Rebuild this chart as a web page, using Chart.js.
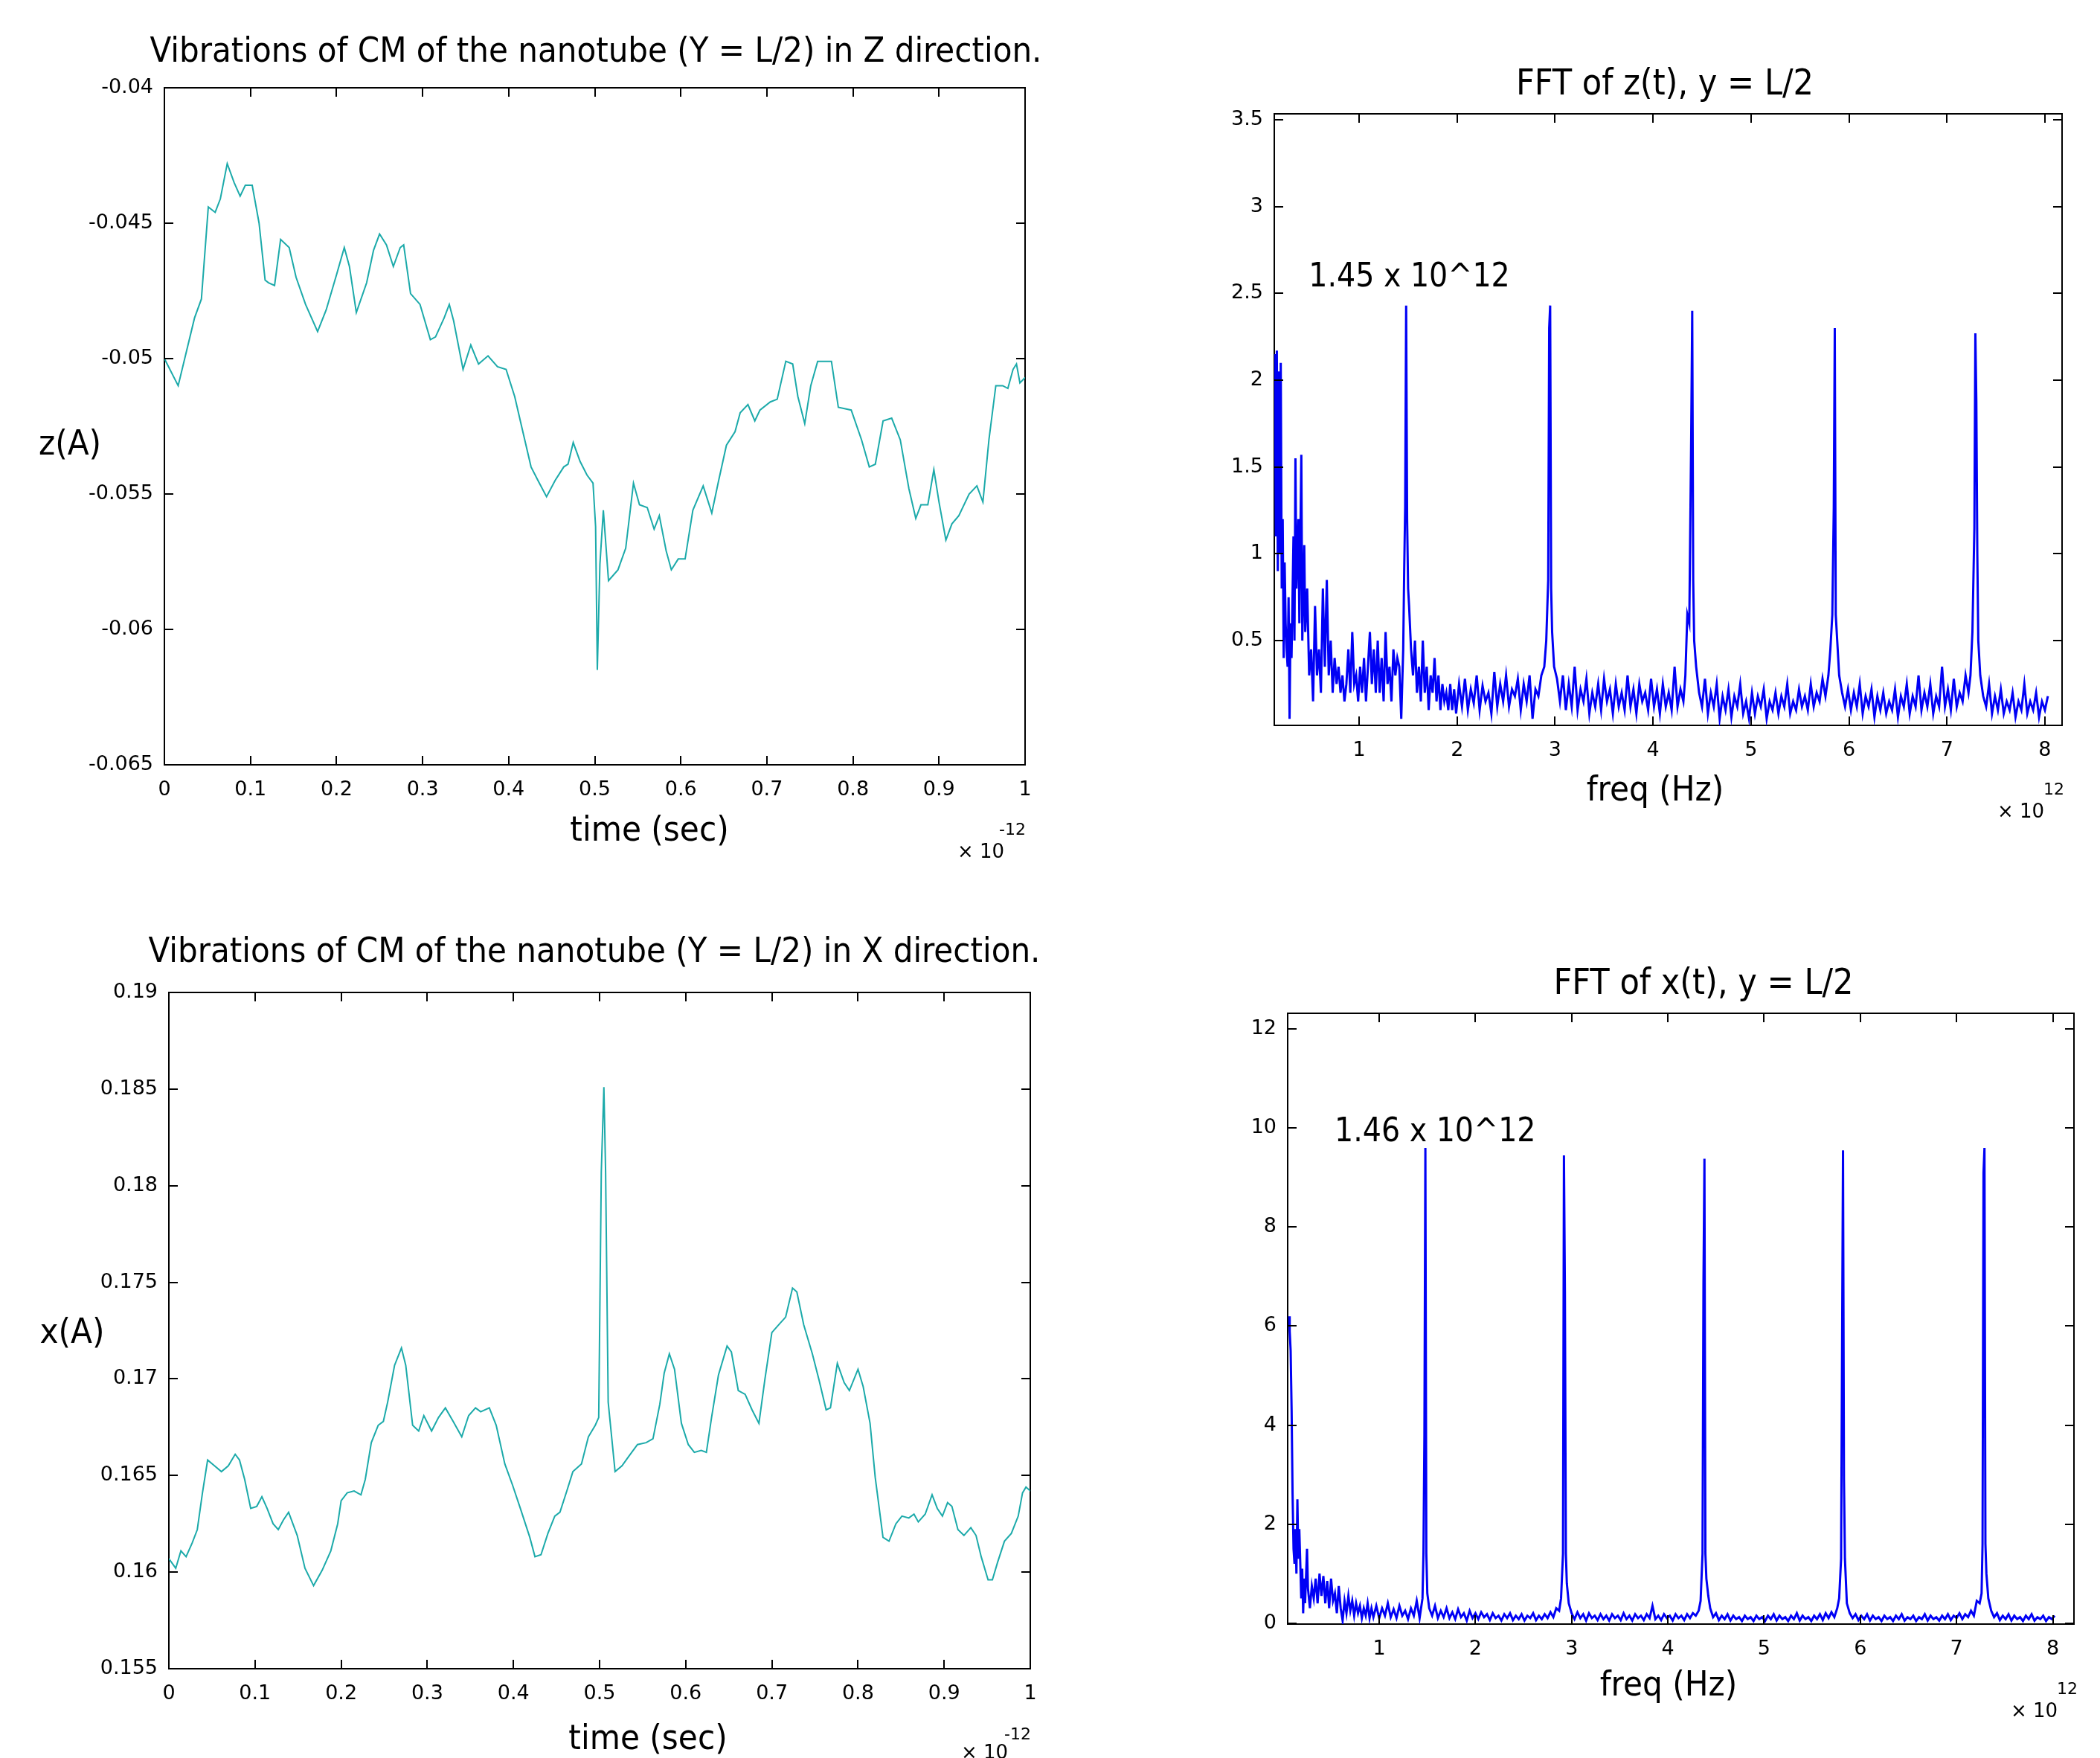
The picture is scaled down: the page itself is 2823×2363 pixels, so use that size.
<!DOCTYPE html>
<html>
<head>
<meta charset="utf-8">
<script src="https://cdn.jsdelivr.net/npm/chart.js@4.4.0/dist/chart.umd.min.js"></script>
<style>
  body { margin: 0; background: #fff; width: 2823px; height: 2363px; position: relative; overflow: hidden; }
  canvas { position: absolute; }
</style>
</head>
<body>
<canvas id="zt" width="1440" height="1190" style="left:0;top:0"></canvas>
<canvas id="zfft" width="1383" height="1190" style="left:1440px;top:0"></canvas>
<canvas id="xt" width="1440" height="1173" style="left:0;top:1190px"></canvas>
<canvas id="xfft" width="1383" height="1173" style="left:1440px;top:1190px"></canvas>
<script>
// time axis in units of 1e-12 s, frequency axis in units of 1e12 Hz
let tZ = [0,0.016,0.035,0.043,0.051,0.059,0.065,0.073,0.081,0.088,
  0.094,0.102,0.110,0.117,0.121,0.128,0.135,0.145,0.153,0.164,
  0.178,0.188,0.200,0.209,0.215,0.223,0.235,0.243,0.250,0.258,
  0.266,0.274,0.278,0.286,0.297,0.309,0.315,0.325,0.331,0.336,
  0.347,0.356,0.365,0.376,0.387,0.397,0.407,0.415,0.426,0.434,
  0.444,0.454,0.464,0.469,0.475,0.483,0.491,0.498,0.501,0.503,
  0.506,0.510,0.516,0.527,0.536,0.545,0.552,0.561,0.569,0.575,
  0.583,0.589,0.597,0.605,0.614,0.626,0.636,0.644,0.653,0.663,
  0.669,0.678,0.686,0.692,0.704,0.712,0.722,0.730,0.736,0.744,
  0.751,0.759,0.775,0.783,0.798,0.810,0.819,0.826,0.835,0.845,
  0.855,0.865,0.873,0.879,0.887,0.894,0.900,0.908,0.915,0.923,
  0.935,0.944,0.951,0.958,0.966,0.974,0.980,0.986,0.990,0.994,
  1.0];
let zPos = [-0.0500,-0.0510,-0.0485,-0.0478,-0.0444,-0.0446,-0.0441,-0.0428,-0.0435,-0.0440,
  -0.0436,-0.0436,-0.0450,-0.0471,-0.0472,-0.0473,-0.0456,-0.0459,-0.0470,-0.0480,
  -0.0490,-0.0482,-0.0469,-0.0459,-0.0466,-0.0483,-0.0472,-0.0460,-0.0454,-0.0458,
  -0.0466,-0.0459,-0.0458,-0.0476,-0.0480,-0.0493,-0.0492,-0.0485,-0.0480,-0.0486,
  -0.0504,-0.0495,-0.0502,-0.0499,-0.0503,-0.0504,-0.0514,-0.0525,-0.0540,-0.0545,
  -0.0551,-0.0545,-0.0540,-0.0539,-0.0531,-0.0538,-0.0543,-0.0546,-0.0562,-0.0615,
  -0.0576,-0.0556,-0.0582,-0.0578,-0.0570,-0.0546,-0.0554,-0.0555,-0.0563,-0.0558,
  -0.0571,-0.0578,-0.0574,-0.0574,-0.0556,-0.0547,-0.0557,-0.0545,-0.0532,-0.0527,
  -0.0520,-0.0517,-0.0523,-0.0519,-0.0516,-0.0515,-0.0501,-0.0502,-0.0514,-0.0524,
  -0.0510,-0.0501,-0.0501,-0.0518,-0.0519,-0.0530,-0.0540,-0.0539,-0.0523,-0.0522,
  -0.0530,-0.0548,-0.0559,-0.0554,-0.0554,-0.0541,-0.0553,-0.0567,-0.0561,-0.0558,
  -0.0550,-0.0547,-0.0553,-0.0530,-0.0510,-0.0510,-0.0511,-0.0504,-0.0502,-0.0509,
  -0.0507];

let tX = [0,0.008,0.014,0.020,0.027,0.033,0.039,0.045,0.053,0.061,
  0.069,0.077,0.082,0.088,0.095,0.102,0.108,0.114,0.121,0.127,
  0.133,0.139,0.149,0.158,0.168,0.178,0.188,0.196,0.200,0.207,
  0.215,0.223,0.228,0.235,0.243,0.249,0.254,0.262,0.270,0.275,
  0.283,0.290,0.296,0.305,0.313,0.321,0.330,0.340,0.348,0.356,
  0.362,0.372,0.380,0.390,0.399,0.408,0.419,0.425,0.432,0.440,
  0.448,0.454,0.462,0.469,0.479,0.487,0.495,0.499,0.502,0.505,
  0.507,0.510,0.518,0.526,0.534,0.544,0.554,0.562,0.570,0.575,
  0.581,0.587,0.595,0.603,0.610,0.618,0.624,0.630,0.638,0.648,
  0.653,0.661,0.669,0.677,0.685,0.692,0.700,0.708,0.716,0.724,
  0.729,0.737,0.747,0.755,0.763,0.768,0.776,0.784,0.790,0.800,
  0.806,0.814,0.820,0.829,0.836,0.844,0.851,0.859,0.865,0.870,
  0.878,0.886,0.892,0.898,0.904,0.909,0.916,0.923,0.931,0.937,
  0.943,0.951,0.956,0.962,0.970,0.978,0.986,0.991,0.995,1.0];
let xPos = [0.1607,0.1602,0.1611,0.1608,0.1615,0.1622,0.1641,0.1658,0.1655,0.1652,
  0.1655,0.1661,0.1658,0.1648,0.1633,0.1634,0.1639,0.1633,0.1625,0.1622,
  0.1627,0.1631,0.1619,0.1602,0.1593,0.1601,0.1611,0.1625,0.1637,0.1641,
  0.1642,0.1640,0.1648,0.1667,0.1676,0.1678,0.1688,0.1707,0.1716,0.1707,
  0.1676,0.1673,0.1681,0.1673,0.1680,0.1685,0.1678,0.1670,0.1681,0.1685,
  0.1683,0.1685,0.1676,0.1656,0.1645,0.1633,0.1618,0.1608,0.1609,0.1620,
  0.1629,0.1631,0.1642,0.1652,0.1656,0.1670,0.1676,0.1680,0.1807,0.1851,
  0.1807,0.1688,0.1652,0.1655,0.1660,0.1666,0.1667,0.1669,0.1687,0.1703,
  0.1713,0.1705,0.1677,0.1666,0.1662,0.1663,0.1662,0.1680,0.1702,0.1717,
  0.1714,0.1694,0.1692,0.1684,0.1677,0.1700,0.1724,0.1728,0.1732,0.1747,
  0.1745,0.1728,0.1713,0.1699,0.1684,0.1685,0.1708,0.1698,0.1694,0.1705,
  0.1696,0.1677,0.1649,0.1618,0.1616,0.1625,0.1629,0.1628,0.1630,0.1626,
  0.1630,0.1640,0.1633,0.1629,0.1636,0.1634,0.1622,0.1619,0.1623,0.1619,
  0.1608,0.1596,0.1596,0.1605,0.1616,0.1620,0.1629,0.1641,0.1644,0.1642];

let fftZFreq = [0.14,0.15,0.16,0.17,0.18,0.19,0.20,0.21,0.22,0.23,
  0.24,0.25,0.26,0.27,0.28,0.29,0.30,0.31,0.33,0.34,
  0.35,0.36,0.38,0.39,0.41,0.42,0.44,0.45,0.47,0.49,
  0.51,0.53,0.55,0.57,0.59,0.61,0.63,0.65,0.67,0.69,
  0.71,0.73,0.75,0.77,0.79,0.81,0.83,0.85,0.87,0.89,
  0.91,0.93,0.95,0.97,0.99,1.01,1.03,1.05,1.07,1.09,
  1.11,1.13,1.15,1.17,1.19,1.21,1.23,1.25,1.27,1.29,
  1.31,1.33,1.35,1.37,1.39,1.41,1.43,1.45,1.46,1.47,
  1.48,1.49,1.50,1.51,1.53,1.55,1.57,1.59,1.61,1.63,
  1.65,1.67,1.69,1.71,1.73,1.75,1.77,1.79,1.81,1.83,
  1.85,1.87,1.89,1.91,1.93,1.95,1.97,1.99,2.02,2.05,
  2.08,2.11,2.14,2.17,2.20,2.23,2.26,2.29,2.32,2.35,
  2.38,2.41,2.44,2.47,2.50,2.53,2.56,2.59,2.62,2.65,
  2.68,2.71,2.74,2.77,2.80,2.83,2.86,2.89,2.91,2.93,
  2.94,2.95,2.96,2.97,2.99,3.02,3.05,3.08,3.11,3.14,
  3.17,3.20,3.23,3.26,3.29,3.32,3.35,3.38,3.41,3.44,
  3.47,3.50,3.53,3.56,3.59,3.62,3.65,3.68,3.71,3.74,
  3.77,3.80,3.83,3.86,3.89,3.92,3.95,3.98,4.01,4.04,
  4.07,4.10,4.13,4.16,4.19,4.22,4.25,4.28,4.31,4.33,
  4.35,4.37,4.39,4.40,4.41,4.42,4.44,4.47,4.50,4.53,
  4.56,4.59,4.62,4.65,4.68,4.71,4.74,4.77,4.80,4.83,
  4.86,4.89,4.92,4.95,4.98,5.01,5.04,5.07,5.10,5.13,
  5.16,5.19,5.22,5.25,5.28,5.31,5.34,5.37,5.40,5.43,
  5.46,5.49,5.52,5.55,5.58,5.61,5.64,5.67,5.70,5.73,
  5.76,5.79,5.81,5.83,5.845,5.855,5.865,5.88,5.90,5.93,
  5.96,5.99,6.02,6.05,6.08,6.11,6.14,6.17,6.20,6.23,
  6.26,6.29,6.32,6.35,6.38,6.41,6.44,6.47,6.50,6.53,
  6.56,6.59,6.62,6.65,6.68,6.71,6.74,6.77,6.80,6.83,
  6.86,6.89,6.92,6.95,6.98,7.01,7.04,7.07,7.10,7.13,
  7.16,7.19,7.22,7.24,7.26,7.28,7.29,7.30,7.31,7.32,
  7.34,7.37,7.40,7.43,7.46,7.49,7.52,7.55,7.58,7.61,
  7.64,7.67,7.70,7.73,7.76,7.79,7.82,7.85,7.88,7.91,
  7.94,7.97,8.00,8.03];
let fftZAmp = [2.15,1.10,2.17,0.90,2.05,1.00,2.10,0.80,1.20,0.40,
  0.95,0.60,0.45,0.35,0.75,0.05,0.60,0.40,1.10,0.50,
  1.55,0.80,1.20,0.60,1.57,0.50,1.05,0.55,0.80,0.30,
  0.45,0.15,0.70,0.30,0.45,0.20,0.80,0.35,0.85,0.30,
  0.50,0.20,0.40,0.25,0.35,0.20,0.30,0.15,0.25,0.45,
  0.20,0.55,0.25,0.30,0.15,0.35,0.20,0.40,0.15,0.35,
  0.55,0.25,0.45,0.20,0.50,0.20,0.40,0.15,0.55,0.25,
  0.35,0.15,0.45,0.30,0.40,0.35,0.05,0.45,0.90,1.27,
  2.43,1.20,0.80,0.70,0.45,0.30,0.50,0.20,0.35,0.15,
  0.50,0.20,0.35,0.10,0.30,0.20,0.40,0.15,0.30,0.10,
  0.25,0.15,0.20,0.10,0.25,0.10,0.22,0.08,0.25,0.12,
  0.28,0.10,0.22,0.14,0.30,0.10,0.24,0.15,0.20,0.08,
  0.32,0.12,0.25,0.15,0.30,0.12,0.22,0.18,0.28,0.10,
  0.25,0.15,0.30,0.05,0.22,0.18,0.30,0.35,0.50,0.85,
  2.30,2.43,0.80,0.55,0.35,0.28,0.15,0.30,0.10,0.25,
  0.12,0.35,0.10,0.22,0.15,0.28,0.08,0.20,0.12,0.25,
  0.10,0.28,0.15,0.22,0.08,0.25,0.12,0.20,0.10,0.30,
  0.12,0.22,0.08,0.25,0.15,0.20,0.10,0.28,0.12,0.22,
  0.08,0.25,0.12,0.20,0.10,0.35,0.12,0.22,0.15,0.30,
  0.65,0.60,1.70,2.40,0.85,0.50,0.35,0.20,0.12,0.28,
  0.08,0.20,0.12,0.25,0.05,0.18,0.10,0.22,0.06,0.18,
  0.12,0.25,0.08,0.15,0.05,0.20,0.08,0.18,0.12,0.22,
  0.05,0.15,0.10,0.20,0.08,0.18,0.12,0.25,0.08,0.15,
  0.10,0.22,0.12,0.18,0.10,0.25,0.12,0.20,0.15,0.28,
  0.18,0.30,0.45,0.65,1.27,2.30,0.65,0.50,0.30,0.20,
  0.12,0.22,0.10,0.20,0.12,0.25,0.08,0.18,0.12,0.22,
  0.06,0.18,0.10,0.20,0.08,0.15,0.10,0.22,0.06,0.18,
  0.12,0.25,0.08,0.18,0.12,0.30,0.10,0.20,0.12,0.25,
  0.08,0.18,0.12,0.35,0.12,0.22,0.10,0.28,0.12,0.20,
  0.15,0.30,0.20,0.30,0.55,1.15,2.27,1.88,1.00,0.50,
  0.30,0.18,0.12,0.25,0.08,0.18,0.10,0.22,0.08,0.15,
  0.10,0.20,0.06,0.15,0.10,0.25,0.08,0.15,0.10,0.20,
  0.06,0.15,0.10,0.18];

let fftXFreq = [0.066,0.07,0.08,0.09,0.10,0.11,0.12,0.13,0.14,0.15,
  0.16,0.17,0.18,0.19,0.20,0.21,0.22,0.23,0.25,0.26,
  0.28,0.30,0.32,0.34,0.36,0.38,0.40,0.42,0.44,0.46,
  0.48,0.50,0.52,0.54,0.56,0.58,0.60,0.62,0.64,0.66,
  0.68,0.70,0.72,0.74,0.76,0.78,0.80,0.82,0.84,0.86,
  0.88,0.90,0.92,0.94,0.97,1.00,1.03,1.06,1.09,1.12,
  1.15,1.18,1.21,1.24,1.27,1.30,1.33,1.36,1.39,1.42,
  1.45,1.46,1.47,1.48,1.49,1.50,1.52,1.55,1.58,1.61,
  1.64,1.67,1.70,1.73,1.76,1.79,1.82,1.85,1.88,1.91,
  1.94,1.97,2.00,2.03,2.06,2.09,2.12,2.15,2.18,2.21,
  2.24,2.27,2.30,2.33,2.36,2.39,2.42,2.45,2.48,2.51,
  2.54,2.57,2.60,2.63,2.66,2.69,2.72,2.75,2.78,2.81,
  2.84,2.87,2.89,2.91,2.92,2.93,2.94,2.95,2.97,3.00,
  3.03,3.06,3.09,3.12,3.15,3.18,3.21,3.24,3.27,3.30,
  3.33,3.36,3.39,3.42,3.45,3.48,3.51,3.54,3.57,3.60,
  3.63,3.66,3.69,3.72,3.75,3.78,3.81,3.84,3.87,3.90,
  3.93,3.96,3.99,4.02,4.05,4.08,4.11,4.14,4.17,4.20,
  4.23,4.26,4.29,4.32,4.34,4.36,4.37,4.38,4.39,4.40,
  4.42,4.44,4.47,4.50,4.53,4.56,4.59,4.62,4.65,4.68,
  4.71,4.74,4.77,4.80,4.83,4.86,4.89,4.92,4.95,4.98,
  5.01,5.04,5.07,5.10,5.13,5.16,5.19,5.22,5.25,5.28,
  5.31,5.34,5.37,5.40,5.43,5.46,5.49,5.52,5.55,5.58,
  5.61,5.64,5.67,5.70,5.73,5.76,5.78,5.80,5.82,5.83,
  5.84,5.86,5.89,5.92,5.95,5.98,6.01,6.04,6.07,6.10,
  6.13,6.16,6.19,6.22,6.25,6.28,6.31,6.34,6.37,6.40,
  6.43,6.46,6.49,6.52,6.55,6.58,6.61,6.64,6.67,6.70,
  6.73,6.76,6.79,6.82,6.85,6.88,6.91,6.94,6.97,7.00,
  7.03,7.06,7.09,7.12,7.15,7.18,7.21,7.24,7.26,7.27,
  7.28,7.29,7.30,7.31,7.33,7.36,7.39,7.42,7.45,7.48,
  7.51,7.54,7.57,7.60,7.63,7.66,7.69,7.72,7.75,7.78,
  7.81,7.84,7.87,7.90,7.93,7.96,7.99,8.02];
let fftXAmp = [6.20,5.90,5.50,4.30,2.60,1.50,1.20,1.90,1.00,2.50,
  1.30,1.90,1.20,0.50,1.10,0.20,0.90,0.40,1.50,0.70,
  0.30,0.75,0.50,0.90,0.40,1.00,0.55,0.95,0.40,0.85,
  0.30,0.90,0.45,0.60,0.20,0.75,0.30,0.05,0.45,0.20,
  0.55,0.25,0.45,0.15,0.40,0.20,0.35,0.10,0.30,0.15,
  0.40,0.10,0.30,0.12,0.35,0.10,0.30,0.15,0.40,0.12,
  0.28,0.10,0.35,0.15,0.25,0.08,0.30,0.15,0.45,0.10,
  0.50,1.40,3.80,9.60,1.40,0.60,0.30,0.15,0.35,0.10,
  0.25,0.12,0.30,0.10,0.22,0.08,0.28,0.12,0.20,0.05,
  0.25,0.10,0.20,0.08,0.22,0.12,0.18,0.06,0.20,0.10,
  0.15,0.05,0.18,0.10,0.20,0.06,0.15,0.08,0.18,0.05,
  0.15,0.10,0.20,0.06,0.15,0.08,0.18,0.10,0.22,0.12,
  0.30,0.25,0.50,1.40,9.45,6.70,1.40,0.80,0.40,0.20,
  0.08,0.22,0.10,0.18,0.05,0.20,0.10,0.15,0.06,0.18,
  0.08,0.15,0.05,0.18,0.10,0.15,0.06,0.20,0.08,0.15,
  0.05,0.18,0.10,0.15,0.06,0.18,0.10,0.35,0.08,0.15,
  0.06,0.18,0.10,0.15,0.05,0.18,0.10,0.15,0.06,0.18,
  0.10,0.20,0.15,0.25,0.45,1.40,6.90,9.38,1.40,0.90,
  0.55,0.30,0.12,0.20,0.06,0.15,0.08,0.18,0.05,0.15,
  0.08,0.12,0.04,0.15,0.08,0.12,0.04,0.15,0.08,0.12,
  0.04,0.15,0.08,0.18,0.05,0.15,0.08,0.12,0.04,0.15,
  0.08,0.20,0.05,0.15,0.08,0.12,0.04,0.15,0.08,0.18,
  0.06,0.20,0.10,0.22,0.12,0.30,0.50,1.30,9.55,2.90,
  1.30,0.40,0.20,0.10,0.18,0.06,0.15,0.08,0.18,0.05,
  0.15,0.08,0.12,0.04,0.15,0.08,0.12,0.04,0.15,0.08,
  0.18,0.05,0.12,0.08,0.15,0.04,0.12,0.08,0.18,0.05,
  0.15,0.08,0.12,0.05,0.15,0.08,0.18,0.06,0.15,0.10,
  0.20,0.08,0.18,0.12,0.25,0.15,0.45,0.40,0.60,1.60,
  9.10,9.60,1.60,1.00,0.50,0.25,0.12,0.20,0.06,0.15,
  0.08,0.18,0.05,0.15,0.08,0.12,0.04,0.15,0.08,0.18,
  0.05,0.12,0.08,0.15,0.04,0.12,0.08,0.15];

// axis limits
let zTimeY = [-0.065, -0.04];
let xTimeY = [0.155, 0.19];
let timeX = [0, 1];
let fftZX = [0.134, 8.175];
let fftZY = [0.012, 3.534];
let fftXX = [0.049, 8.22];
let fftXY = [-0.02, 12.32];

let bigFamily = "'DejaVu Sans Condensed', 'DejaVu Sans', sans-serif";
let tickFamily = "'DejaVu Sans', sans-serif";
let longTitleFont = "46.8px " + bigFamily;
let titleFont = "48px " + bigFamily;
let bigFont = "47px " + bigFamily;
let noteFont = "44px " + bigFamily;
let smallFont = "26px " + tickFamily;
let supFont = "22px " + tickFamily;

// loose texts: titles, y labels, x labels, x10 multipliers, peak notes
let extraText = {
    id: 'extraText',
    afterDraw(chart, args, opts) {
        let ctx = chart.ctx;
        (opts.items || []).forEach(item => {
            let x = item.x, y = item.y;
            if (item.data) {
                x = chart.scales.x.getPixelForValue(item.x);
                y = chart.scales.y.getPixelForValue(item.y);
            }
            ctx.save();
            ctx.font = item.font;
            ctx.fillStyle = '#000';
            ctx.textAlign = item.align || 'center';
            ctx.textBaseline = 'middle';
            ctx.fillText(item.text, x, y);
            ctx.restore();
        });
    }
};

// matlab style tick marks pointing into the box, on all four sides
let inwardTicks = {
    id: 'inwardTicks',
    afterDatasetsDraw(chart) {
        let ctx = chart.ctx, a = chart.chartArea, len = 12;
        let sx = chart.scales.x, sy = chart.scales.y;
        ctx.save();
        ctx.strokeStyle = '#000';
        ctx.lineWidth = 2;
        ctx.beginPath();
        sx.ticks.forEach(t => {
            let px = Math.round(sx.getPixelForValue(t.value));
            ctx.moveTo(px, a.bottom); ctx.lineTo(px, a.bottom - len);
            ctx.moveTo(px, a.top); ctx.lineTo(px, a.top + len);
        });
        sy.ticks.forEach(t => {
            let py = Math.round(sy.getPixelForValue(t.value));
            ctx.moveTo(a.left, py); ctx.lineTo(a.left + len, py);
            ctx.moveTo(a.right, py); ctx.lineTo(a.right - len, py);
        });
        ctx.stroke();
        ctx.restore();
    }
};

function axis(pos, lim, step, size, pad, labels) {
    return {
        type: 'linear', position: pos, min: lim[0], max: lim[1],
        grid: { display: false, drawTicks: false },
        border: { display: true, color: '#000', width: 2 },
        ticks: {
            display: labels, stepSize: step, includeBounds: false, autoSkip: false, maxRotation: 0,
            padding: pad, color: '#000', font: { family: tickFamily, size: 27 },
            callback: v => String(+v.toFixed(4))
        },
        afterFit: s => {
            if (pos === 'top' || pos === 'bottom') s.height = size; else s.width = size;
        }
    };
}

function makeChart(id, c) {
    return new Chart(document.getElementById(id), {
        type: 'line',
        data: {
            datasets: [{
                data: c.xs.map((x, i) => ({ x: x, y: c.ys[i] })),
                borderColor: c.color, borderWidth: c.width, pointRadius: 0, tension: 0, fill: false
            }]
        },
        options: {
            responsive: false, animation: false, events: [],
            layout: { padding: { left: 0, top: c.padTop, right: c.padRight, bottom: 0 } },
            scales: {
                x: axis('bottom', c.xLim, c.xStep, c.xAxisH, 18, true),
                x2: axis('top', c.xLim, c.xStep, 0, 0, false),
                y: axis('left', c.yLim, c.yStep, c.yAxisW, 15, true),
                y2: axis('right', c.yLim, c.yStep, 0, 0, false)
            },
            plugins: {
                legend: { display: false },
                tooltip: { enabled: false },
                title: { display: false },
                extraText: { items: c.texts }
            }
        },
        plugins: [inwardTicks, extraText]
    });
}

let teal = 'rgb(28,170,170)';
let blue = 'rgb(0,0,245)';

makeChart('zt', {
    xs: tZ, ys: zPos, color: teal, width: 2,
    xLim: timeX, xStep: 0.1, yLim: zTimeY, yStep: 0.005,
    padTop: 118, padRight: 62, xAxisH: 162, yAxisW: 221,
    texts: [
        { text: 'Vibrations of CM of the nanotube (Y = L/2) in Z direction.', x: 801, y: 71, font: longTitleFont },
        { text: 'z(A)', x: 94, y: 599, font: bigFont },
        { text: 'time (sec)', x: 873, y: 1118, font: bigFont },
        { text: '\u00d7 10', x: 1287, y: 1146, font: smallFont, align: 'left' },
        { text: '-12', x: 1343, y: 1116, font: supFont, align: 'left' }
    ]
});

makeChart('zfft', {
    xs: fftZFreq, ys: fftZAmp, color: blue, width: 3,
    xLim: fftZX, xStep: 1, yLim: fftZY, yStep: 0.5,
    padTop: 153, padRight: 51, xAxisH: 215, yAxisW: 273,
    texts: [
        { text: 'FFT of z(t), y = L/2', x: 798, y: 115, font: titleFont },
        { text: 'freq (Hz)', x: 785, y: 1064, font: bigFont },
        { text: '\u00d7 10', x: 1245, y: 1092, font: smallFont, align: 'left' },
        { text: '12', x: 1307, y: 1062, font: supFont, align: 'left' },
        { text: '1.45 x 10^12', x: 0.485, y: 2.587, data: true, font: noteFont, align: 'left' }
    ]
});

makeChart('xt', {
    xs: tX, ys: xPos, color: teal, width: 2,
    xLim: timeX, xStep: 0.1, yLim: xTimeY, yStep: 0.005,
    padTop: 144, padRight: 55, xAxisH: 120, yAxisW: 227,
    texts: [
        { text: 'Vibrations of CM of the nanotube (Y = L/2) in X direction.', x: 799, y: 91, font: longTitleFont },
        { text: 'x(A)', x: 97, y: 603, font: bigFont },
        { text: 'time (sec)', x: 871, y: 1149, font: bigFont },
        { text: '\u00d7 10', x: 1292, y: 1167, font: smallFont, align: 'left' },
        { text: '-12', x: 1350, y: 1142, font: supFont, align: 'left' }
    ]
});

makeChart('xfft', {
    xs: fftXFreq, ys: fftXAmp, color: blue, width: 3,
    xLim: fftXX, xStep: 1, yLim: fftXY, yStep: 2,
    padTop: 172, padRight: 35, xAxisH: 180, yAxisW: 291,
    texts: [
        { text: 'FFT of x(t), y = L/2', x: 850, y: 134, font: titleFont },
        { text: 'freq (Hz)', x: 803, y: 1077, font: bigFont },
        { text: '\u00d7 10', x: 1263, y: 1111, font: smallFont, align: 'left' },
        { text: '12', x: 1325, y: 1081, font: supFont, align: 'left' },
        { text: '1.46 x 10^12', x: 0.536, y: 9.91, data: true, font: noteFont, align: 'left' }
    ]
});
</script>
</body>
</html>
